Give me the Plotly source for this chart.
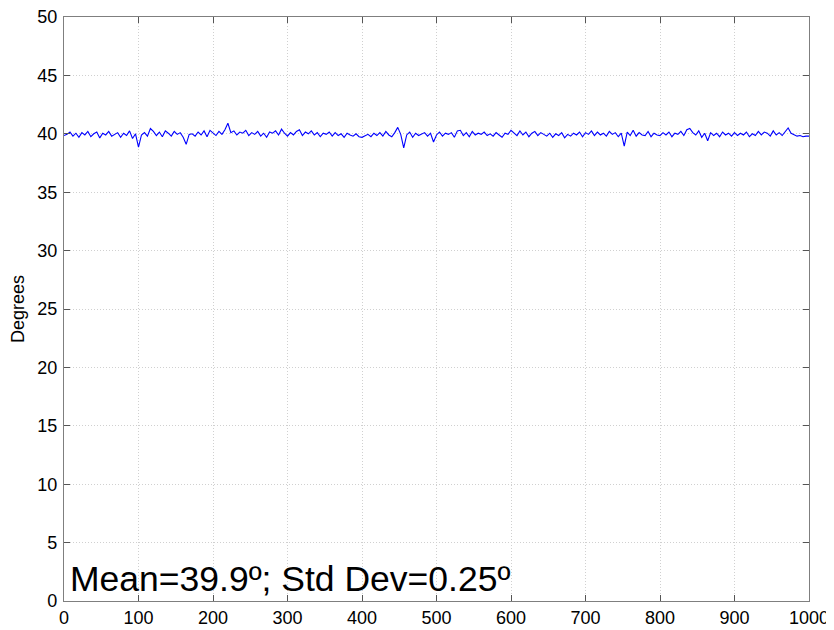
import plotly.graph_objects as go

# sample index (every 4th sample of 0..1000)
sample_step = 4
degrees = [
    # 0-96
    39.85, 39.95, 40.15, 39.80, 40.05, 39.70, 40.10, 39.90, 40.20, 39.75, 40.00, 40.15, 39.65,
    40.05, 39.90, 40.20, 39.80, 39.95, 40.10, 39.70, 40.05, 39.85, 40.25, 39.60, 40.00,
    # 100-196
    38.85, 39.90, 40.10, 39.80, 40.45, 40.20, 39.85, 40.15, 39.75, 40.25, 40.05, 39.80, 40.20,
    39.95, 40.10, 39.70, 39.10, 39.95, 40.00, 39.80, 40.15, 39.90, 40.25, 39.75, 40.30,
    # 200-296
    40.05, 39.85, 40.20, 39.95, 40.35, 40.90, 40.10, 40.25, 39.90, 40.15, 40.05, 40.30, 39.85,
    40.10, 39.95, 40.20, 39.80, 40.05, 39.70, 40.15, 40.05, 40.25, 39.90, 40.40, 40.05,
    # 300-396
    39.80, 40.10, 39.90, 40.20, 40.35, 39.85, 40.15, 40.00, 40.25, 39.90, 40.10, 39.75, 40.05,
    39.95, 40.15, 39.80, 40.10, 39.85, 40.00, 39.70, 40.05, 39.90, 39.80, 40.00, 39.75,
    # 400-496
    39.70, 39.85, 39.95, 39.75, 40.05, 39.85, 40.10, 39.80, 40.20, 39.90, 39.75, 40.10, 40.55,
    39.95, 38.80, 39.90, 40.15, 39.70, 40.05, 39.85, 39.95, 40.10, 39.80, 40.05, 39.30,
    # 500-596
    39.90, 40.15, 39.80, 40.05, 39.95, 40.10, 39.70, 40.25, 40.30, 39.85, 40.10, 39.75, 40.20,
    39.90, 40.05, 39.95, 40.15, 39.85, 40.00, 39.80, 40.10, 39.90, 39.70, 40.05, 39.95,
    # 600-696
    40.30, 40.10, 39.85, 40.25, 39.90, 40.15, 39.75, 40.05, 40.20, 39.85, 40.10, 39.95, 39.80,
    40.05, 39.70, 40.00, 39.85, 40.10, 39.65, 39.95, 39.80, 40.05, 39.90, 40.15, 39.75,
    # 700-796
    40.10, 39.95, 40.25, 39.85, 40.15, 39.90, 40.05, 39.80, 40.20, 39.95, 40.10, 39.75, 40.05,
    38.95, 40.15, 39.85, 40.30, 39.80, 40.10, 39.90, 39.85, 40.20, 39.75, 40.05, 39.90,
    # 800-896
    39.85, 40.10, 39.90, 40.15, 39.75, 40.05, 39.95, 40.20, 39.85, 40.35, 40.45, 40.10, 39.90,
    40.25, 39.70, 40.05, 39.40, 40.10, 39.85, 40.05, 39.75, 40.15, 39.90, 40.05, 39.80,
    # 900-1000
    40.10, 39.85, 40.05, 39.90, 40.15, 39.75, 40.00, 39.85, 40.20, 39.90, 40.15, 40.05, 39.80,
    40.25, 39.90, 40.10, 39.85, 40.20, 40.50, 40.05, 39.90, 39.80, 39.85, 39.75, 39.80,
    39.80,
]
samples = [i * sample_step for i in range(len(degrees))]

x_ticks = [0, 100, 200, 300, 400, 500, 600, 700, 800, 900, 1000]
y_ticks = [0, 5, 10, 15, 20, 25, 30, 35, 40, 45, 50]
y_label = "Degrees"
stats_text = "Mean=39.9º; Std Dev=0.25º"

FONT = "Liberation Sans, Arial"

fig = go.Figure()
fig.add_trace(go.Scatter(x=samples, y=degrees, mode="lines",
                         line=dict(color="#0000ff", width=1.1), showlegend=False))

axis_common = dict(
    showline=True, linecolor="#7f7f7f", linewidth=1.3, mirror="ticks",
    ticks="inside", ticklen=6, tickcolor="#555555", tickwidth=1,
    showgrid=True, gridcolor="#d0d0d0", gridwidth=1, griddash="1px,2px",
    zeroline=False, automargin=False, ticklabeloverflow="allow",
    tickfont=dict(family=FONT, size=18, color="black"),
)

fig.update_xaxes(range=[0, 1000], tickvals=x_ticks, ticklabelstandoff=0, **axis_common)
fig.update_yaxes(range=[0, 50], tickvals=y_ticks, ticklabelstandoff=2,
                 title=dict(text=y_label, font=dict(family=FONT, size=18, color="black"), standoff=14),
                 **axis_common)

fig.add_annotation(x=5, y=0, xref="x", yref="y", text=stats_text, showarrow=False,
                   xanchor="left", yanchor="bottom",
                   font=dict(family=FONT, size=35.5, color="black"))

# page body adds an 8px offset, so the figure is sized/margined to compensate
fig.update_layout(width=826, height=622, plot_bgcolor="white", paper_bgcolor="white",
                  margin=dict(l=56, r=25, t=9, b=29))

fig.write_html("out.html")
